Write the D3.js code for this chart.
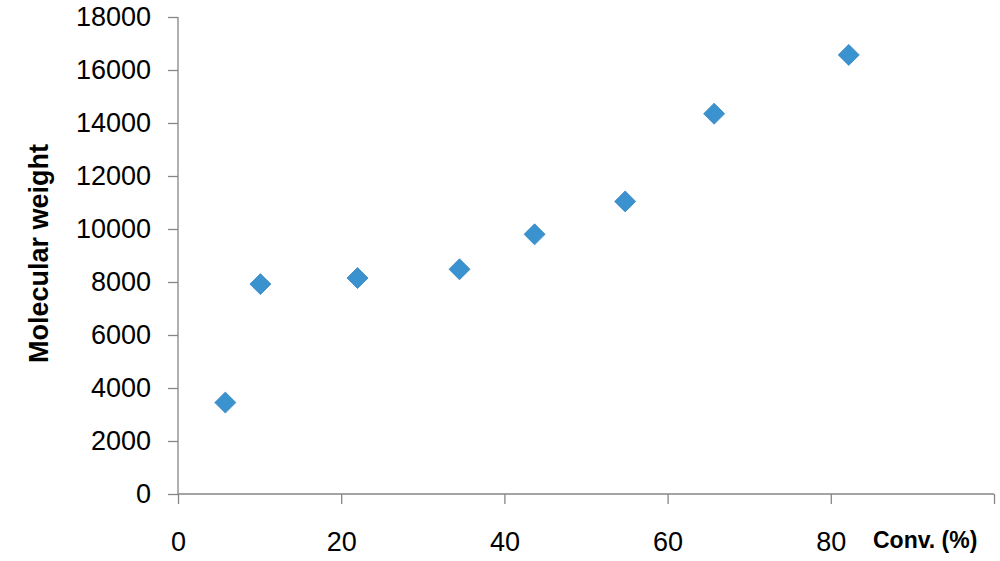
<!DOCTYPE html>
<html>
<head>
<meta charset="utf-8">
<script src="https://cdn.jsdelivr.net/npm/d3@7"></script>
<style>
  html, body { margin: 0; padding: 0; background: #fff; }
  svg { display: block; }
</style>
</head>
<body>
<svg id="chart" width="1000" height="561"></svg>
<script>
const conversion = [5.8, 10.1, 22.0, 34.5, 43.7, 54.8, 65.7, 82.2];
const molecularWeight = [3450, 7920, 8150, 8480, 9800, 11040, 14350, 16570];
const xTicks = [0, 20, 40, 60, 80];
const yTicks = [0, 2000, 4000, 6000, 8000, 10000, 12000, 14000, 16000, 18000];
const xTitle = "Conv. (%)";
const yTitle = "Molecular weight";

(function () {
const svg = d3.select("#chart");
const mLeft = 178, mRight = 994, mTop = 17, mBottom = 494;

const x = d3.scaleLinear().domain([0, 100]).range([mLeft, mRight]);
const y = d3.scaleLinear().domain([0, 18000]).range([mBottom, mTop]);

const axisColor = "#868686";
const font = "'Liberation Sans', Arial, sans-serif";

const yAxis = svg.append("g")
  .attr("transform", `translate(${mLeft},0)`)
  .call(d3.axisLeft(y).tickValues(yTicks).tickSize(10).tickPadding(17).tickFormat(d3.format("d")));
const xAxis = svg.append("g")
  .attr("transform", `translate(0,${mBottom})`)
  .call(d3.axisBottom(x).tickValues([0, 20, 40, 60, 80, 100]).tickSize(10).tickPadding(28)
    .tickFormat(d => xTicks.includes(d) ? d : ""));

[yAxis, xAxis].forEach(g => {
  g.select(".domain").attr("stroke", axisColor).attr("stroke-width", 1.3);
  g.selectAll(".tick line").attr("stroke", axisColor).attr("stroke-width", 1.3);
  g.selectAll(".tick text").attr("fill", "#000").style("font-family", font).style("font-size", "27px");
});
xAxis.select(".domain").attr("d", `M${mLeft},0H${mRight}`);
yAxis.select(".domain").attr("d", `M0,${mTop}V${mBottom}`);

svg.append("text")
  .attr("transform", `translate(48,${(142 + 365) / 2}) rotate(-90)`)
  .attr("text-anchor", "middle")
  .style("font-family", font).style("font-weight", "bold").style("font-size", "27px")
  .text(yTitle);

svg.append("text")
  .attr("x", 873).attr("y", 548)
  .style("font-family", font).style("font-weight", "bold").style("font-size", "23px")
  .text(xTitle);

const sym = d3.symbol().type(d3.symbolSquare).size(220);
svg.append("g").selectAll("path")
  .data(conversion.map((c, i) => [c, molecularWeight[i]]))
  .join("path")
  .attr("d", sym)
  .attr("transform", d => `translate(${x(d[0])},${y(d[1])}) rotate(45)`)
  .attr("fill", "#3a93cf")
  .attr("stroke", "#3a88c4")
  .attr("stroke-width", 0.8);
})();
</script>
</body>
</html>
